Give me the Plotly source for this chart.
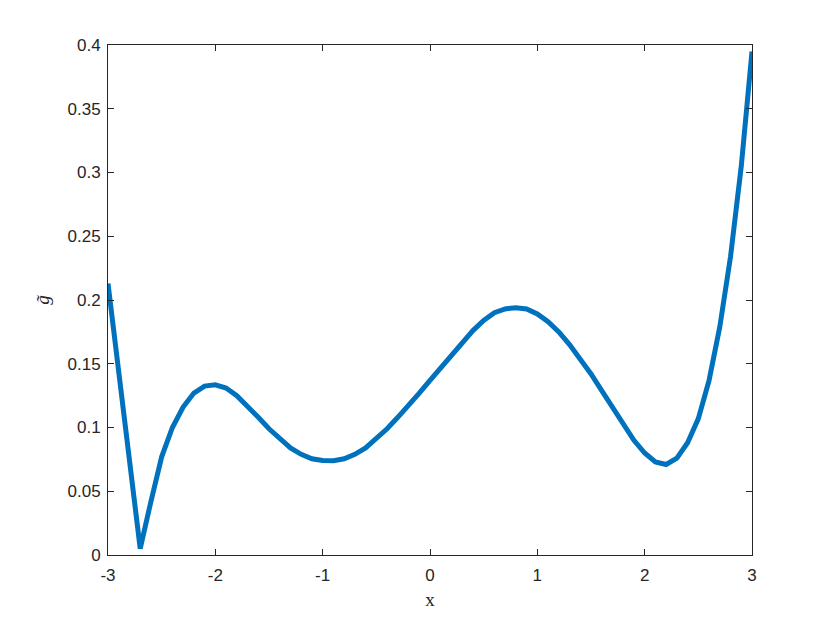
import plotly.graph_objects as go

# curve sampled every 0.1 from -3 to 3
x = [round(-3 + 0.1 * i, 1) for i in range(61)]
g = [0.213, 0.143, 0.072, 0.005, 0.042, 0.077, 0.100, 0.116, 0.127, 0.1325,
     0.1335, 0.131, 0.125, 0.117, 0.108, 0.099, 0.091, 0.084, 0.079, 0.0755,
     0.0742, 0.0740, 0.0755, 0.079, 0.084, 0.091, 0.099, 0.108, 0.117, 0.127,
     0.137, 0.147, 0.157, 0.167, 0.176, 0.184, 0.190, 0.193, 0.194, 0.193,
     0.189, 0.183, 0.175, 0.165, 0.154, 0.142, 0.129, 0.116, 0.103, 0.090,
     0.080, 0.073, 0.071, 0.076, 0.088, 0.107, 0.137, 0.179, 0.234, 0.305,
     0.395]

xticks = [-3, -2, -1, 0, 1, 2, 3]
yticks = [0, 0.05, 0.1, 0.15, 0.2, 0.25, 0.3, 0.35, 0.4]
ytext = ["0", "0.05", "0.1", "0.15", "0.2", "0.25", "0.3", "0.35", "0.4"]

fig = go.Figure(go.Scatter(x=x, y=g, mode="lines",
                           line=dict(color="#0072BD", width=5)))

axis_style = dict(showline=True, linecolor="#262626", linewidth=1, mirror="ticks",
                  ticks="inside", ticklen=6, tickcolor="#262626", showgrid=False,
                  zeroline=False, tickfont=dict(family="Liberation Sans", size=17, color="#262626"))

fig.update_xaxes(range=[-3, 3], tickvals=xticks, ticktext=[str(t) for t in xticks],
                 ticklabelstandoff=5,
                 title=dict(text="x", font=dict(family="Liberation Serif", size=19, color="#262626"),
                            standoff=8),
                 **axis_style)
fig.update_yaxes(range=[0, 0.4], tickvals=yticks, ticktext=ytext,
                 ticklabelstandoff=3,
                 title=dict(text="<i>g\u0303</i>", font=dict(family="Liberation Serif", size=19, color="#262626"),
                            standoff=12),
                 **axis_style)

# page body adds 8px, so margins are shifted to land the axes where they belong
fig.update_layout(width=830, height=623, plot_bgcolor="white", paper_bgcolor="white",
                  margin=dict(l=100, r=86, t=37, b=76), showlegend=False)

fig.write_html("out.html")
